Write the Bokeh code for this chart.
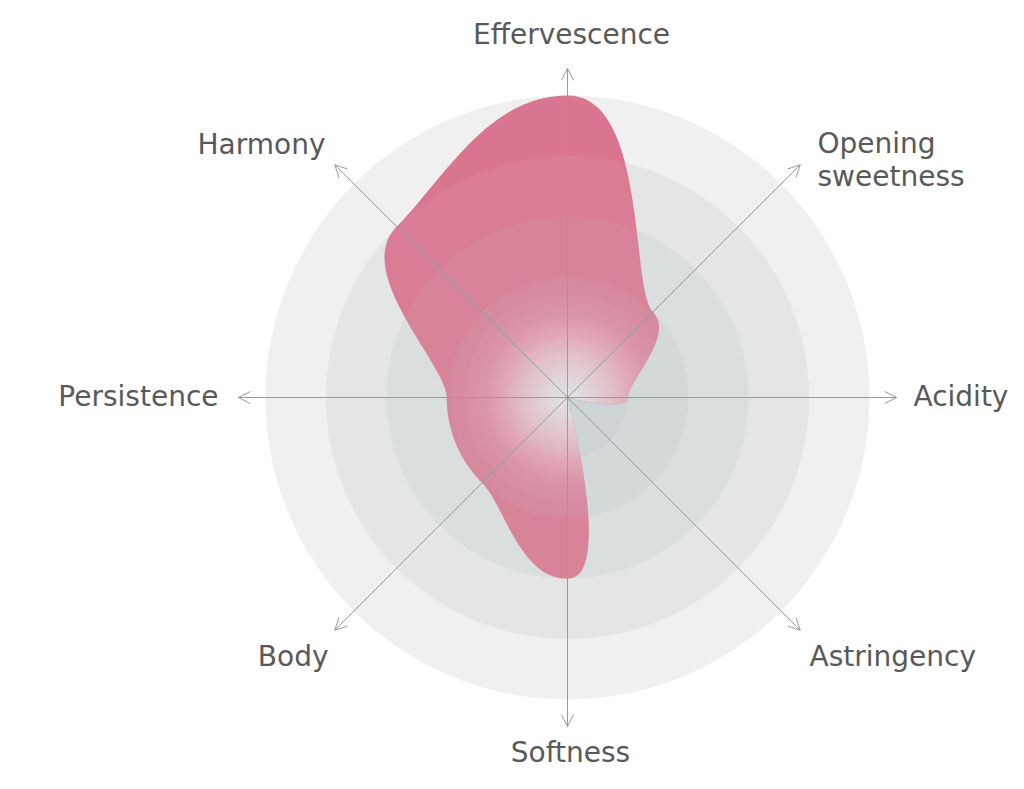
import math
from bokeh.plotting import figure
from bokeh.models import Range1d, Arrow, OpenHead, ColumnDataSource
from bokeh.core.properties import value
from bokeh.embed import file_html
from bokeh.resources import INLINE

# ---- data ----
categories = ["Effervescence", "Opening\nsweetness", "Acidity", "Astringency",
              "Softness", "Body", "Persistence", "Harmony"]
scores = [5, 2, 1, 0, 3, 2, 2, 4]
ring_levels = [5, 4, 3, 2, 1]
ring_colors = ["#f0f0f0", "#e3e5e5", "#d9dedf", "#d1d8da", "#c9d2d4"]

# ---- layout ----
W, H = 1008, 773
S = 60.4  # px per unit
cx_px, cy_px = 567, 397  # center from top-left of figure
p = figure(width=W, height=H, output_backend="svg", toolbar_location=None,
           x_range=Range1d(-cx_px / S, (W - cx_px) / S),
           y_range=Range1d(-(H - cy_px) / S, cy_px / S),
           min_border=0, outline_line_color=None, background_fill_color="white",
           border_fill_color="white")
p.axis.visible = False
p.grid.visible = False

n = len(categories)
angles = [math.pi / 2 - 2 * math.pi * i / n for i in range(n)]

# rings
for lvl, col in zip(ring_levels, ring_colors):
    p.circle(x=[0], y=[0], radius=lvl, fill_color=col, line_color=None)

# smooth closed curve: cubic Bezier with handles tangent to the circles
kh = 4.0 / 3.0 * math.tan(math.pi / (2 * n))
pts = [(s * math.cos(a), s * math.sin(a)) for s, a in zip(scores, angles)]
tans = [(math.sin(a), -math.cos(a)) for a in angles]  # clockwise tangent
xs, ys = [], []
steps = 40
for i in range(n):
    j = (i + 1) % n
    P0 = pts[i]
    P3 = pts[j]
    P1 = (P0[0] + kh * scores[i] * tans[i][0], P0[1] + kh * scores[i] * tans[i][1])
    P2 = (P3[0] - kh * scores[j] * tans[j][0], P3[1] - kh * scores[j] * tans[j][1])
    for k in range(steps):
        t = k / steps
        u = 1 - t
        b0, b1, b2, b3 = u ** 3, 3 * u * u * t, 3 * u * t * t, t ** 3
        xs.append(b0 * P0[0] + b1 * P1[0] + b2 * P2[0] + b3 * P3[0])
        ys.append(b0 * P0[1] + b1 * P1[1] + b2 * P2[1] + b3 * P3[1])

p.patch(xs, ys, fill_color="#d45c7b", fill_alpha=0.9, line_color=None)

# faint ring edges over the shape
for lvl, col in zip(ring_levels, ring_colors):
    p.circle(x=[0], y=[0], radius=lvl, fill_color=col, fill_alpha=0.08, line_color=None)

# central radial glow, limited to the shape (shape is star-shaped around the centre)
a_layer = 0.03
peak = 0.8
sigma = 64.0 / S
k = 1
while True:
    target = 1 - (1 - a_layer) ** k
    if target >= peak:
        break
    R = sigma * math.sqrt(-math.log(target / peak))
    gx, gy = [], []
    for x_, y_ in zip(xs, ys):
        d = math.hypot(x_, y_)
        f = 1.0 if d <= R else R / d
        gx.append(x_ * f)
        gy.append(y_ * f)
    p.patch(gx, gy, fill_color="white", fill_alpha=a_layer, line_color=None)
    k += 1

# axes with arrows
R_AX = 5.45
for a in angles:
    p.add_layout(Arrow(end=OpenHead(size=12, line_color="#9a9a9a", line_width=1),
                       x_start=0, y_start=0,
                       x_end=R_AX * math.cos(a), y_end=R_AX * math.sin(a),
                       line_color="#9a9a9a", line_width=1))

# labels (pixel offsets from the centre, layout only)
label_off = [(4, 363), (250, 238), (346, 1), (242, -259),
             (3, -355), (-239, -259), (-349, 1), (-242, 253)]
anchors = ["center", "center_left", "center_left", "center_left",
           "center", "center_right", "center_right", "center_right"]
src = ColumnDataSource(dict(x=[o[0] / S for o in label_off],
                            y=[o[1] / S for o in label_off],
                            text=categories, anchor=anchors))
p.text(x="x", y="y", text="text", anchor="anchor", source=src,
       text_font=value("DejaVu Sans"), text_font_size="28px", text_color="#595959",
       text_line_height=1.0)

open("out.html", "w").write(file_html(p, INLINE))
